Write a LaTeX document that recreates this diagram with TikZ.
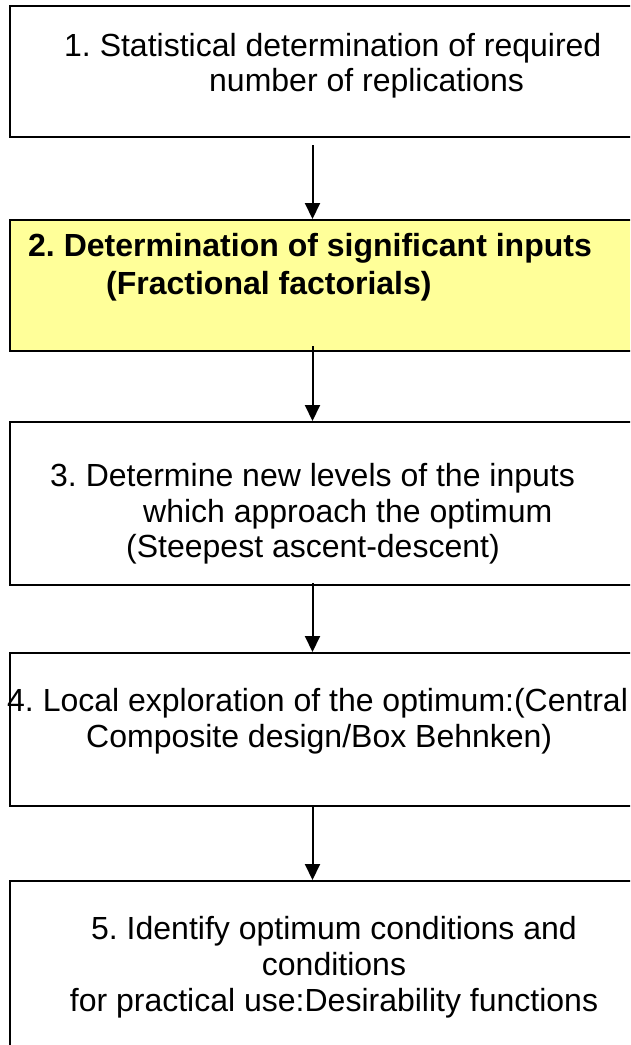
\documentclass[tikz,border=0pt]{standalone}
\usepackage{fontspec}
\setmainfont{Liberation Sans}
\usetikzlibrary{arrows.meta}
\definecolor{stepyellow}{HTML}{FFFF99}
\frenchspacing
\begin{document}
\begin{tikzpicture}[x=1pt,y=-1pt,
  stepbox/.style={draw=black, line width=2pt, fill=white, anchor=north west,
    inner sep=0pt, minimum width=660pt},
  steptext/.style={anchor=base west, inner sep=0pt,
    font=\fontsize{32}{38}\selectfont},
  midtext/.style={steptext, anchor=base},
  boldtext/.style={steptext, font=\fontsize{32}{38}\selectfont\bfseries},
  flow/.style={line width=2pt, -{Triangle[length=16pt,width=15pt]}}]
  \useasboundingbox (0,0) rectangle (630,1045);
  \clip (0,0) rectangle (630,1045);
  \fill[white] (0,0) rectangle (630,1045);

  % step boxes
  \node[stepbox, minimum height=131pt] (b1) at (9,5) {};
  \node[stepbox, minimum height=131pt, fill=stepyellow] (b2) at (9,219) {};
  \node[stepbox, minimum height=163pt] (b3) at (9,421) {};
  \node[stepbox, minimum height=153pt] (b4) at (9,652) {};
  \node[stepbox, minimum height=200pt] (b5) at (9,880) {};

  % step texts
  \node[steptext] (t11) at (64,56) {1. Statistical determination of required};
  \node[steptext] (t12) at (209,91) {number of replications};
  \node[boldtext] (t21) at (28,256) {2. Determination of significant inputs};
  \node[boldtext] (t22) at (106,294) {(Fractional factorials)};
  \node[steptext] (t31) at (50,486) {3. Determine new levels of the inputs};
  \node[steptext] (t32) at (143,522) {which approach the optimum};
  \node[steptext] (t33) at (126,557) {(Steepest ascent-descent)};
  \node[steptext] (t41) at (7,711) {4. Local exploration of the optimum:(Central};
  \node[steptext] (t42) at (86,747) {Composite design/Box Behnken)};
  \node[midtext] (t51) at (334,939) {5. Identify optimum conditions and};
  \node[midtext] (t52) at (334,975) {conditions};
  \node[midtext] (t53) at (334,1011) {for practical use:Desirability functions};

  % connectors
  \coordinate (ax) at (312.5,0);
  \draw[flow] ([yshift=-7pt]b1.south -| ax) -- (b2.north -| ax);
  \draw[flow] ([yshift=6pt]b2.south -| ax) -- (b3.north -| ax);
  \draw[flow] ([yshift=3pt]b3.south -| ax) -- (b4.north -| ax);
  \draw[flow] ([yshift=1pt]b4.south -| ax) -- (b5.north -| ax);
\end{tikzpicture}
\end{document}
